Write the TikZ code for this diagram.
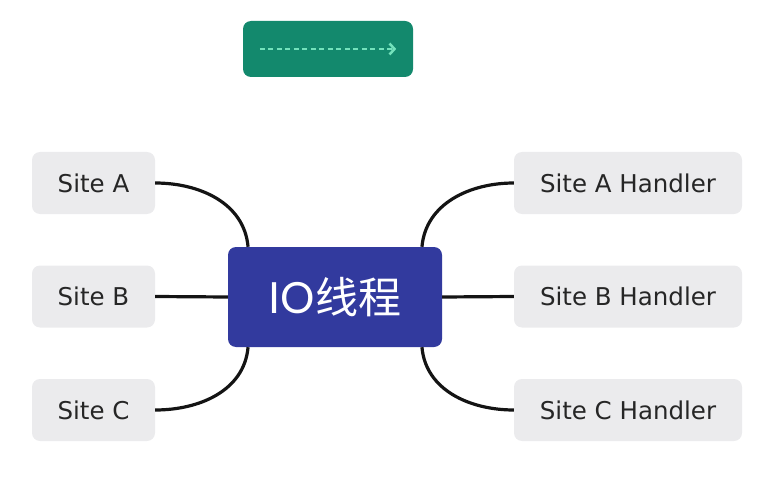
\documentclass[tikz,border=0pt]{standalone}
\usepackage{fontspec}
\setmainfont{Lato}
\newfontfamily\labelfont{DejaVu Sans}
\newfontfamily\cjk{Noto Sans CJK SC}
\usetikzlibrary{arrows.meta}
\definecolor{sitegray}{HTML}{EBEBED}
\definecolor{sitetext}{HTML}{262626}
\definecolor{ioblue}{HTML}{323A9E}
\definecolor{flowgreen}{HTML}{13896D}
\definecolor{flowmint}{HTML}{74E2BC}
\definecolor{wire}{HTML}{141414}

\begin{document}
\begin{tikzpicture}[x=1pt,y=1pt,
  site/.style={fill=sitegray, rounded corners=8pt, minimum width=123pt, minimum height=62pt, text=sitetext, font=\labelfont\fontsize{24.5}{29}\selectfont},
  handler/.style={site, minimum width=228pt},
  wireline/.style={draw=wire, line width=3.2pt}]
\useasboundingbox (0,0) rectangle (757,480);

\node[fill=flowgreen, rounded corners=8pt, minimum width=170pt, minimum height=56pt] (flow) at (328,431) {};
\path[draw=flowmint, line width=2.5pt, dash pattern=on 5pt off 3.5pt, -{Straight Barb[length=5pt,width=11pt,line width=2.5pt]}] ([xshift=17pt]flow.west) -- ([xshift=-17pt]flow.east);

\node[fill=ioblue, rounded corners=8pt, minimum width=214pt, minimum height=100pt, text=white, font=\fontsize{43}{50}\selectfont] (io) at (335,183) {IO{\cjk 线程}};

\node[site] (a) at (93.5,297) {Site A};
\node[site] (b) at (93.5,183.5) {Site B};
\node[site] (c) at (93.5,70) {Site C};
\path[wireline] (a.east) to[out=0,in=95] (io.150);
\path[wireline] (b.east) -- (io.west);
\path[wireline] (c.east) to[out=0,in=-95] (io.210);

\node[handler] (ah) at (628,297) {Site A Handler};
\node[handler] (bh) at (628,183.5) {Site B Handler};
\node[handler] (ch) at (628,70) {Site C Handler};
\path[wireline] (ah.west) to[out=180,in=85] (io.30);
\path[wireline] (bh.west) -- (io.east);
\path[wireline] (ch.west) to[out=180,in=-85] (io.330);
\end{tikzpicture}
\end{document}
